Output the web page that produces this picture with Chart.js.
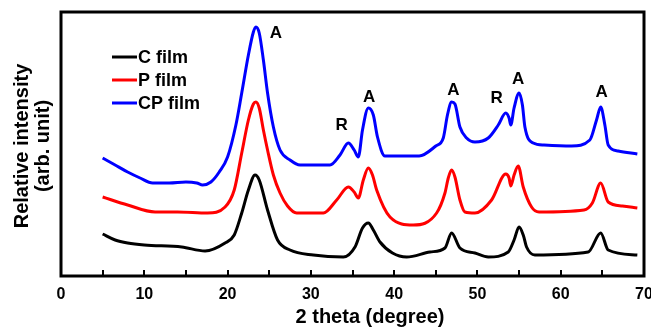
<!DOCTYPE html>
<html>
<head>
<meta charset="utf-8">
<title>XRD patterns</title>
<script src="https://cdn.jsdelivr.net/npm/chart.js@4.4.1/dist/chart.umd.min.js"></script>
<style>
  html, body { margin: 0; padding: 0; background: #fff; }
  #wrap { width: 651px; height: 328px; }
</style>
</head>
<body>
<div id="wrap"><canvas id="xrdChart"></canvas></div>
<script>
// 2 theta positions (degree) and intensities (arb. unit, offset stacked) for each film
const cTheta = [5, 6.5, 8, 10, 14.5, 17.3, 19.7, 20.8, 21.7, 22.5, 23.3, 23.8, 24.8, 26, 27.5, 30.3,
  33.9, 35.3, 36.2, 36.9, 37.5, 38.3, 39.8, 41.5, 44.3, 46.1, 46.9, 47.9, 49.7, 51.3, 53.7, 54.4,
  55, 55.5, 55.9, 56.9, 63.3, 64.8, 65.7, 69.2];
const cIntensity = [42, 36, 33, 31, 29, 25, 33, 41, 63, 86, 101, 96, 66, 36, 26, 21,
  19, 29, 48, 53, 46, 34, 23, 19, 24, 28, 43, 28, 23, 19, 24, 36,
  49, 41, 29, 21, 24, 43, 26, 21];

const pTheta = [5, 8, 11.3, 14, 17.6, 19.7, 20.8, 21.7, 22.5, 23.1, 23.4, 23.8, 24.3, 24.8, 25.5, 26.3,
  27.2, 28.3, 31.5, 33.1, 34.5, 35.2, 35.7, 36.3, 36.9, 37.4, 37.9, 39.5, 42.3, 45.1, 46.1, 46.5,
  46.9, 47.3, 47.9, 48.5, 49.7, 51.7, 53.4, 53.8, 54, 54.4, 54.9, 55.5, 56.5, 57.4, 62.8, 63.8,
  64.8, 65.7, 67.4, 69.2];
const pIntensity = [79, 71, 64, 64, 63, 69, 86, 123, 156, 172, 174, 168, 146, 126, 101, 83,
  70, 63, 63, 76, 89, 84, 78, 96, 108, 101, 86, 59, 51, 63, 83, 98,
  106, 99, 76, 64, 63, 76, 102, 98, 90, 101, 110, 89, 69, 64, 66, 73,
  93, 74, 70, 68];

const cpTheta = [5, 6.5, 8, 9.5, 11, 13, 15, 16.3, 17, 18, 19, 20, 21, 21.7, 22.5, 23.1,
  23.4, 23.8, 24.3, 24.8, 25.5, 26.3, 27.5, 28.7, 32.3, 33.5, 34.5, 35.2, 35.7, 36.2, 36.9, 37.5,
  38, 38.9, 43, 45, 45.9, 46.4, 46.9, 47.3, 47.9, 48.7, 49.7, 51.3, 52.5, 53.4, 53.8, 54,
  54.4, 55, 55.4, 55.7, 56.7, 58, 61.3, 63.5, 64.3, 64.8, 65.3, 65.7, 66.9, 69.2];
const cpIntensity = [118, 111, 104, 98, 93, 93, 94, 93, 91, 94, 104, 119, 151, 183, 221, 244,
  249, 243, 216, 183, 149, 126, 116, 111, 111, 121, 133, 126, 119, 146, 168, 161,
  139, 120, 120, 130, 138, 161, 174, 172, 149, 138, 134, 138, 151, 163, 158, 151,
  168, 183, 171, 149, 133, 131, 130, 136, 156, 169, 151, 131, 125, 122];

// phase tags above the reflections (A = anatase, R = rutile)
const peakTags = ['A', 'R', 'A', 'A', 'R', 'A', 'A'];
const peakTheta = [25.8, 33.7, 37.0, 47.1, 52.3, 54.9, 64.9];
const peakLevel = [243, 151, 179, 186, 178, 197, 184];

const xTicks = [0, 10, 20, 30, 40, 50, 60, 70];

const FONT = '"Liberation Sans", Arial, Helvetica, sans-serif';

function toPoints(xs, ys) {
  return xs.map((x, i) => ({ x: x, y: ys[i] }));
}

function series(label, xs, ys, color) {
  return {
    label: label,
    data: toPoints(xs, ys),
    borderColor: color,
    backgroundColor: color,
    borderWidth: 3,
    pointRadius: 0,
    cubicInterpolationMode: 'monotone',
    fill: false
  };
}

// frame, inward ticks, phase tags, legend and axis titles
const decorations = {
  id: 'decorations',
  afterDraw(chart) {
    const { ctx, chartArea: a, scales: { x, y } } = chart;
    ctx.save();
    ctx.strokeStyle = '#000';
    ctx.fillStyle = '#000';

    ctx.lineWidth = 2;
    x.ticks.forEach(t => {
      if (t.value <= x.min || t.value >= x.max) return;
      const px = Math.round(x.getPixelForValue(t.value));
      ctx.beginPath();
      ctx.moveTo(px, a.bottom);
      ctx.lineTo(px, a.bottom - 6);
      ctx.stroke();
    });

    ctx.lineWidth = 3;
    ctx.strokeRect(a.left, a.top, a.right - a.left, a.bottom - a.top);

    ctx.font = 'bold 17px ' + FONT;
    ctx.textAlign = 'center';
    ctx.textBaseline = 'middle';
    peakTags.forEach((tag, i) => {
      ctx.fillText(tag, x.getPixelForValue(peakTheta[i]), y.getPixelForValue(peakLevel[i]));
    });

    // legend, inside the plot
    ctx.textAlign = 'left';
    ctx.font = 'bold 18px ' + FONT;
    chart.data.datasets.forEach((ds, i) => {
      const ly = 57 + i * 23;
      ctx.strokeStyle = ds.borderColor;
      ctx.lineWidth = 3;
      ctx.beginPath();
      ctx.moveTo(112, ly);
      ctx.lineTo(137, ly);
      ctx.stroke();
      ctx.fillStyle = '#000';
      ctx.fillText(ds.label, 138, ly + 1);
    });

    // axis titles
    ctx.font = 'bold 20px ' + FONT;
    ctx.textAlign = 'center';
    ctx.fillText('2 theta (degree)', 370, 317);
    ctx.save();
    ctx.translate(22, 146);
    ctx.rotate(-Math.PI / 2);
    ctx.fillText('Relative intensity', 0, 0);
    ctx.fillText('(arb. unit)', 0, 21);
    ctx.restore();

    ctx.restore();
  }
};

new Chart(document.getElementById('xrdChart'), {
  type: 'line',
  data: {
    datasets: [
      series('C film', cTheta, cIntensity, '#000000'),
      series('P film', pTheta, pIntensity, '#ff0000'),
      series('CP film', cpTheta, cpIntensity, '#0000ff')
    ]
  },
  options: {
    responsive: true,
    maintainAspectRatio: false,
    animation: false,
    layout: { padding: { top: 12, right: 7, left: 61, bottom: 0 } },
    plugins: {
      legend: { display: false },
      tooltip: { enabled: false }
    },
    scales: {
      x: {
        type: 'linear',
        min: 0,
        max: 70,
        afterFit: scale => {
          scale.height = 52;
          scale.paddingLeft = 0;
          scale.paddingRight = 0;
        },
        grid: { display: false, drawTicks: false },
        border: { display: false },
        ticks: {
          stepSize: 5,
          autoSkip: false,
          maxRotation: 0,
          padding: 9,
          color: '#000',
          font: { family: FONT, size: 16, weight: 'bold' },
          callback: v => (xTicks.includes(v) ? String(v) : '')
        }
      },
      y: {
        display: false,
        min: 0,
        max: 264
      }
    }
  },
  plugins: [decorations]
});
</script>
</body>
</html>
